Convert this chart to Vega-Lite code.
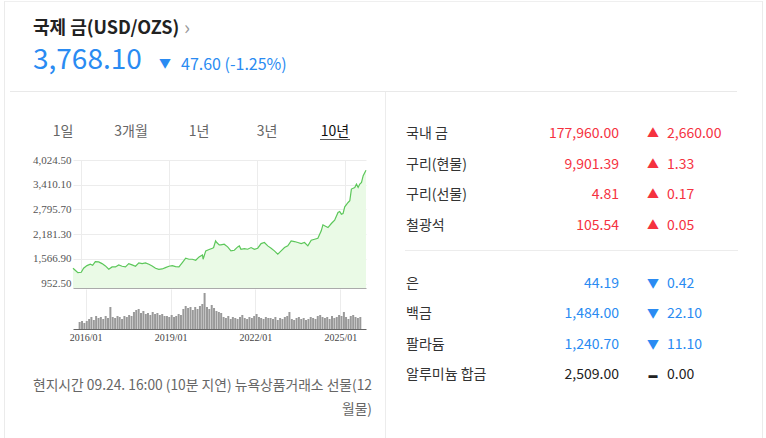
{
  "$schema": "https://vega.github.io/schema/vega-lite/v6.json",
  "background": "white",
  "padding": {"left": 4, "top": 1, "right": 0, "bottom": 0},
  "config": {"view": {"stroke": null}, "text": {"font": "Noto Sans CJK KR"}, "concat": {"spacing": 0}},
  "datasets": {
    "header": [{"name": "국제 금(USD/OZS)", "price": "3,768.10", "chg": "47.60 (-1.25%)", "dir": "down"}],
    "tabs": [{"tab": "1일", "state": "off"}, {"tab": "3개월", "state": "off"}, {"tab": "1년", "state": "off"}, {"tab": "3년", "state": "off"}, {"tab": "10년", "state": "on"}],
    "note": [{"note": ["현지시간 09.24. 16:00 (10분 지연) 뉴욕상품거래소 선물(12", "월물)"]}],
    "metals1": [
      {"name": "국내 금", "value": "177,960.00", "chg": "2,660.00", "dir": "up"},
      {"name": "구리(현물)", "value": "9,901.39", "chg": "1.33", "dir": "up"},
      {"name": "구리(선물)", "value": "4.81", "chg": "0.17", "dir": "up"},
      {"name": "철광석", "value": "105.54", "chg": "0.05", "dir": "up"}
    ],
    "metals2": [
      {"name": "은", "value": "44.19", "chg": "0.42", "dir": "down"},
      {"name": "백금", "value": "1,484.00", "chg": "22.10", "dir": "down"},
      {"name": "팔라듐", "value": "1,240.70", "chg": "11.10", "dir": "down"},
      {"name": "알루미늄 합금", "value": "2,509.00", "chg": "0.00", "dir": "flat"}
    ],
    "gold": [
      {"date": "2015-09-24", "price": 1335}, {"date": "2015-10-22", "price": 1285}, {"date": "2015-11-24", "price": 1227},
      {"date": "2016-01-05", "price": 1235}, {"date": "2016-02-03", "price": 1335}, {"date": "2016-03-16", "price": 1401},
      {"date": "2016-04-27", "price": 1435}, {"date": "2016-05-26", "price": 1410}, {"date": "2016-06-28", "price": 1501},
      {"date": "2016-08-09", "price": 1493}, {"date": "2016-09-20", "price": 1451}, {"date": "2016-11-01", "price": 1393},
      {"date": "2016-12-13", "price": 1310}, {"date": "2017-01-23", "price": 1368}, {"date": "2017-03-06", "price": 1368},
      {"date": "2017-04-16", "price": 1418}, {"date": "2017-05-28", "price": 1385}, {"date": "2017-07-09", "price": 1368},
      {"date": "2017-08-19", "price": 1451}, {"date": "2017-09-30", "price": 1418}, {"date": "2017-11-11", "price": 1385},
      {"date": "2017-12-23", "price": 1468}, {"date": "2018-02-02", "price": 1451}, {"date": "2018-03-16", "price": 1468},
      {"date": "2018-04-27", "price": 1435}, {"date": "2018-06-07", "price": 1393}, {"date": "2018-07-19", "price": 1335},
      {"date": "2018-08-29", "price": 1310}, {"date": "2018-10-10", "price": 1318}, {"date": "2018-11-20", "price": 1352},
      {"date": "2019-01-02", "price": 1385}, {"date": "2019-02-13", "price": 1401}, {"date": "2019-03-26", "price": 1376},
      {"date": "2019-05-07", "price": 1368}, {"date": "2019-06-18", "price": 1476}, {"date": "2019-07-30", "price": 1584},
      {"date": "2019-09-09", "price": 1559}, {"date": "2019-10-21", "price": 1559}, {"date": "2019-12-02", "price": 1534},
      {"date": "2020-01-13", "price": 1617}, {"date": "2020-02-24", "price": 1667}, {"date": "2020-03-03", "price": 1559},
      {"date": "2020-04-05", "price": 1767}, {"date": "2020-05-17", "price": 1800}, {"date": "2020-06-28", "price": 1833},
      {"date": "2020-07-12", "price": 1850}, {"date": "2020-08-06", "price": 2015}, {"date": "2020-08-20", "price": 1975},
      {"date": "2020-09-20", "price": 1916}, {"date": "2020-10-11", "price": 1916}, {"date": "2020-11-21", "price": 1933},
      {"date": "2021-01-03", "price": 1866}, {"date": "2021-02-13", "price": 1767}, {"date": "2021-03-27", "price": 1783},
      {"date": "2021-05-08", "price": 1866}, {"date": "2021-05-29", "price": 1891}, {"date": "2021-06-18", "price": 1808},
      {"date": "2021-07-30", "price": 1825}, {"date": "2021-09-10", "price": 1808}, {"date": "2021-10-22", "price": 1849},
      {"date": "2021-12-02", "price": 1808}, {"date": "2022-01-13", "price": 1833}, {"date": "2022-02-24", "price": 1949},
      {"date": "2022-04-06", "price": 1974}, {"date": "2022-05-18", "price": 1891}, {"date": "2022-06-29", "price": 1833},
      {"date": "2022-08-09", "price": 1767}, {"date": "2022-09-20", "price": 1684}, {"date": "2022-11-01", "price": 1767},
      {"date": "2022-12-13", "price": 1849}, {"date": "2023-01-23", "price": 1891}, {"date": "2023-03-06", "price": 2015},
      {"date": "2023-04-16", "price": 1999}, {"date": "2023-05-28", "price": 1974}, {"date": "2023-07-09", "price": 1949},
      {"date": "2023-08-19", "price": 1974}, {"date": "2023-09-30", "price": 1891}, {"date": "2023-11-11", "price": 2032},
      {"date": "2023-12-23", "price": 2057}, {"date": "2024-02-02", "price": 2082}, {"date": "2024-03-15", "price": 2264},
      {"date": "2024-04-05", "price": 2414}, {"date": "2024-04-26", "price": 2389}, {"date": "2024-06-07", "price": 2347},
      {"date": "2024-07-19", "price": 2447}, {"date": "2024-08-29", "price": 2530}, {"date": "2024-10-10", "price": 2721},
      {"date": "2024-10-31", "price": 2746}, {"date": "2024-11-21", "price": 2679}, {"date": "2024-12-12", "price": 2696},
      {"date": "2025-01-02", "price": 2862}, {"date": "2025-02-13", "price": 2970}, {"date": "2025-03-06", "price": 3011},
      {"date": "2025-03-26", "price": 3302}, {"date": "2025-05-07", "price": 3343}, {"date": "2025-05-28", "price": 3426},
      {"date": "2025-06-18", "price": 3343}, {"date": "2025-07-09", "price": 3426}, {"date": "2025-07-30", "price": 3468},
      {"date": "2025-08-20", "price": 3634}, {"date": "2025-09-24", "price": 3768.1}
    ],
    "volume": [
      {"month": "2015-10-15", "vol": 70}, {"month": "2015-11-15", "vol": 80}, {"month": "2015-12-15", "vol": 60},
      {"month": "2016-01-15", "vol": 80}, {"month": "2016-02-15", "vol": 100}, {"month": "2016-03-15", "vol": 120}, {"month": "2016-04-15", "vol": 90}, {"month": "2016-05-15", "vol": 130}, {"month": "2016-06-15", "vol": 110}, {"month": "2016-07-15", "vol": 120}, {"month": "2016-08-15", "vol": 100}, {"month": "2016-09-15", "vol": 130}, {"month": "2016-10-15", "vol": 110}, {"month": "2016-11-15", "vol": 220}, {"month": "2016-12-15", "vol": 120},
      {"month": "2017-01-15", "vol": 110}, {"month": "2017-02-15", "vol": 130}, {"month": "2017-03-15", "vol": 120}, {"month": "2017-04-15", "vol": 100}, {"month": "2017-05-15", "vol": 130}, {"month": "2017-06-15", "vol": 120}, {"month": "2017-07-15", "vol": 140}, {"month": "2017-08-15", "vol": 130}, {"month": "2017-09-15", "vol": 170}, {"month": "2017-10-15", "vol": 190}, {"month": "2017-11-15", "vol": 200}, {"month": "2017-12-15", "vol": 160},
      {"month": "2018-01-15", "vol": 180}, {"month": "2018-02-15", "vol": 150}, {"month": "2018-03-15", "vol": 160}, {"month": "2018-04-15", "vol": 140}, {"month": "2018-05-15", "vol": 170}, {"month": "2018-06-15", "vol": 150}, {"month": "2018-07-15", "vol": 160}, {"month": "2018-08-15", "vol": 140}, {"month": "2018-09-15", "vol": 150}, {"month": "2018-10-15", "vol": 130}, {"month": "2018-11-15", "vol": 130}, {"month": "2018-12-15", "vol": 120},
      {"month": "2019-01-15", "vol": 140}, {"month": "2019-02-15", "vol": 120}, {"month": "2019-03-15", "vol": 130}, {"month": "2019-04-15", "vol": 150}, {"month": "2019-05-15", "vol": 140}, {"month": "2019-06-15", "vol": 200}, {"month": "2019-07-15", "vol": 230}, {"month": "2019-08-15", "vol": 210}, {"month": "2019-09-15", "vol": 220}, {"month": "2019-10-15", "vol": 190}, {"month": "2019-11-15", "vol": 220}, {"month": "2019-12-15", "vol": 200},
      {"month": "2020-01-15", "vol": 230}, {"month": "2020-02-15", "vol": 250}, {"month": "2020-03-15", "vol": 360}, {"month": "2020-04-15", "vol": 220}, {"month": "2020-05-15", "vol": 200}, {"month": "2020-06-15", "vol": 240}, {"month": "2020-07-15", "vol": 210}, {"month": "2020-08-15", "vol": 180}, {"month": "2020-09-15", "vol": 170}, {"month": "2020-10-15", "vol": 160}, {"month": "2020-11-15", "vol": 120}, {"month": "2020-12-15", "vol": 110},
      {"month": "2021-01-15", "vol": 130}, {"month": "2021-02-15", "vol": 100}, {"month": "2021-03-15", "vol": 120}, {"month": "2021-04-15", "vol": 110}, {"month": "2021-05-15", "vol": 100}, {"month": "2021-06-15", "vol": 120}, {"month": "2021-07-15", "vol": 140}, {"month": "2021-08-15", "vol": 110}, {"month": "2021-09-15", "vol": 100}, {"month": "2021-10-15", "vol": 120}, {"month": "2021-11-15", "vol": 110}, {"month": "2021-12-15", "vol": 130},
      {"month": "2022-01-15", "vol": 150}, {"month": "2022-02-15", "vol": 120}, {"month": "2022-03-15", "vol": 110}, {"month": "2022-04-15", "vol": 100}, {"month": "2022-05-15", "vol": 120}, {"month": "2022-06-15", "vol": 110}, {"month": "2022-07-15", "vol": 110}, {"month": "2022-08-15", "vol": 100}, {"month": "2022-09-15", "vol": 120}, {"month": "2022-10-15", "vol": 90}, {"month": "2022-11-15", "vol": 110}, {"month": "2022-12-15", "vol": 100},
      {"month": "2023-01-15", "vol": 120}, {"month": "2023-02-15", "vol": 130}, {"month": "2023-03-15", "vol": 170}, {"month": "2023-04-15", "vol": 100}, {"month": "2023-05-15", "vol": 90}, {"month": "2023-06-15", "vol": 110}, {"month": "2023-07-15", "vol": 120}, {"month": "2023-08-15", "vol": 100}, {"month": "2023-09-15", "vol": 110}, {"month": "2023-10-15", "vol": 90}, {"month": "2023-11-15", "vol": 100}, {"month": "2023-12-15", "vol": 120},
      {"month": "2024-01-15", "vol": 110}, {"month": "2024-02-15", "vol": 100}, {"month": "2024-03-15", "vol": 130}, {"month": "2024-04-15", "vol": 140}, {"month": "2024-05-15", "vol": 120}, {"month": "2024-06-15", "vol": 110}, {"month": "2024-07-15", "vol": 120}, {"month": "2024-08-15", "vol": 100}, {"month": "2024-09-15", "vol": 130}, {"month": "2024-10-15", "vol": 110}, {"month": "2024-11-15", "vol": 120}, {"month": "2024-12-15", "vol": 140},
      {"month": "2025-01-15", "vol": 130}, {"month": "2025-02-15", "vol": 170}, {"month": "2025-03-15", "vol": 120}, {"month": "2025-04-15", "vol": 100}, {"month": "2025-05-15", "vol": 130}, {"month": "2025-06-15", "vol": 140}, {"month": "2025-07-15", "vol": 120}, {"month": "2025-08-15", "vol": 110}, {"month": "2025-09-15", "vol": 120}
    ]
  },
  "hconcat": [
    {"width": 1, "height": 437, "data": {"values": []}, "mark": "text", "view": {"fill": "#ebebeb", "stroke": null}},
    {
      "vconcat": [
        {"width": 757, "height": 1, "data": {"values": []}, "mark": "text", "view": {"fill": "#efefef", "stroke": null}},
        {
          "width": 757, "height": 89,
          "data": {"name": "header"},
          "layer": [
            {"mark": {"type": "text", "align": "left", "fontSize": 18, "fontWeight": "bold", "color": "#222222"},
             "encoding": {
               "x": {"datum": "left", "type": "nominal", "scale": {"type": "point", "domain": ["left", "chg"], "range": [28, 176], "padding": 0}, "axis": null},
               "y": {"datum": "l1", "type": "nominal", "scale": {"type": "point", "domain": ["l1", "l2"], "range": [27, 59], "padding": 0}, "axis": null},
               "text": {"field": "name"}}},
            {"mark": {"type": "text", "align": "left", "fontSize": 20, "color": "#999999", "dx": 151, "text": "›"},
             "encoding": {
               "x": {"datum": "left", "type": "nominal", "scale": {"type": "point", "domain": ["left", "chg"], "range": [28, 176], "padding": 0}, "axis": null},
               "y": {"datum": "l1", "type": "nominal", "scale": {"type": "point", "domain": ["l1", "l2"], "range": [27, 59], "padding": 0}, "axis": null}}},
            {"mark": {"type": "text", "align": "left", "fontSize": 28, "color": "#2a8bf2"},
             "encoding": {
               "x": {"datum": "left", "type": "nominal", "scale": {"type": "point", "domain": ["left", "chg"], "range": [28, 176], "padding": 0}, "axis": null},
               "y": {"datum": "l2", "type": "nominal", "scale": {"type": "point", "domain": ["l1", "l2"], "range": [27, 59], "padding": 0}, "axis": null},
               "text": {"field": "price"}}},
            {"mark": {"type": "text", "align": "center", "fontSize": 12, "color": "#2a8bf2", "dx": -16, "dy": 3, "text": "▼"},
             "encoding": {
               "x": {"datum": "chg", "type": "nominal", "scale": {"type": "point", "domain": ["left", "chg"], "range": [28, 176], "padding": 0}, "axis": null},
               "y": {"datum": "l2", "type": "nominal", "scale": {"type": "point", "domain": ["l1", "l2"], "range": [27, 59], "padding": 0}, "axis": null}}},
            {"mark": {"type": "text", "align": "left", "fontSize": 16, "color": "#2a8bf2", "dy": 4},
             "encoding": {
               "x": {"datum": "chg", "type": "nominal", "scale": {"type": "point", "domain": ["left", "chg"], "range": [28, 176], "padding": 0}, "axis": null},
               "y": {"datum": "l2", "type": "nominal", "scale": {"type": "point", "domain": ["l1", "l2"], "range": [27, 59], "padding": 0}, "axis": null},
               "text": {"field": "chg"}}}
          ]
        },
        {
          "hconcat": [
            {"width": 5, "height": 1, "data": {"values": []}, "mark": "text"},
            {"width": 727, "height": 1, "data": {"values": []}, "mark": "text", "view": {"fill": "#e9e9e9", "stroke": null}}
          ],
          "spacing": 0, "bounds": "flush"
        },
        {
          "hconcat": [
            {
              "vconcat": [
                {
                  "width": 380, "height": 62,
                  "data": {"name": "tabs"},
                  "layer": [
                    {"transform": [{"filter": "datum.state === 'off'"}],
                     "mark": {"type": "text", "fontSize": 14, "color": "#666666"},
                     "encoding": {
                       "x": {"field": "tab", "type": "nominal", "scale": {"type": "point", "domain": ["1일", "3개월", "1년", "3년", "10년"], "range": [58, 330], "padding": 0}, "axis": null},
                       "y": {"datum": "label", "type": "nominal", "scale": {"type": "point", "domain": ["label", "line"], "range": [39.5, 47.5], "padding": 0}, "axis": null},
                       "text": {"field": "tab"}}},
                    {"transform": [{"filter": "datum.state === 'on'"}],
                     "mark": {"type": "text", "fontSize": 14, "color": "#111111"},
                     "encoding": {
                       "x": {"field": "tab", "type": "nominal", "scale": {"type": "point", "domain": ["1일", "3개월", "1년", "3년", "10년"], "range": [58, 330], "padding": 0}, "axis": null},
                       "y": {"datum": "label", "type": "nominal", "scale": {"type": "point", "domain": ["label", "line"], "range": [39.5, 47.5], "padding": 0}, "axis": null},
                       "text": {"field": "tab"}}},
                    {"transform": [{"filter": "datum.state === 'on'"}],
                     "mark": {"type": "tick", "orient": "horizontal", "size": 30, "thickness": 1, "color": "#111111"},
                     "encoding": {
                       "x": {"field": "tab", "type": "nominal", "scale": {"type": "point", "domain": ["1일", "3개월", "1년", "3년", "10년"], "range": [58, 330], "padding": 0}, "axis": null},
                       "y": {"datum": "line", "type": "nominal", "scale": {"type": "point", "domain": ["label", "line"], "range": [39.5, 47.5], "padding": 0}, "axis": null}}}
                  ]
                },
                {
                  "hconcat": [
                    {"width": 1, "height": 1, "data": {"values": []}, "mark": "text"},
                    {
                      "width": 293, "height": 128,
                      "data": {"name": "gold"},
                      "encoding": {
                        "x": {"field": "date", "type": "temporal",
                              "scale": {"domain": [{"year": 2015, "month": 9, "date": 24}, {"year": 2025, "month": 9, "date": 24}]},
                              "axis": {"values": [{"year": 2016, "month": 1, "date": 1}, {"year": 2019, "month": 1, "date": 1}, {"year": 2022, "month": 1, "date": 1}, {"year": 2025, "month": 1, "date": 1}],
                                       "labels": false, "ticks": false, "tickSize": 0, "domain": true, "domainColor": "#aaaaaa", "grid": true, "gridColor": "#ececec", "title": null}},
                        "y": {"field": "price", "type": "quantitative",
                              "scale": {"domain": [845, 4024.5], "nice": false, "zero": false, "clamp": true},
                              "axis": {"values": [952.5, 1566.9, 2181.3, 2795.7, 3410.1, 4024.5], "format": ",.2f",
                                       "labelFont": "Liberation Serif", "labelFontSize": 11, "labelColor": "#555555",
                                       "ticks": false, "tickSize": 0, "domain": false, "grid": true, "gridColor": "#ececec", "labelPadding": 2, "title": null}}
                      },
                      "layer": [
                        {"mark": {"type": "area", "color": "#eafae6"}, "encoding": {"y2": {"datum": 845}}},
                        {"mark": {"type": "line", "color": "#5cc75a", "strokeWidth": 1.2}}
                      ]
                    }
                  ],
                  "spacing": 67, "bounds": "flush"
                },
                {
                  "hconcat": [
                    {"width": 1, "height": 1, "data": {"values": []}, "mark": "text"},
                    {
                      "width": 293, "height": 40,
                      "data": {"name": "volume"},
                      "mark": {"type": "bar", "color": "#999999", "size": 2},
                      "encoding": {
                        "x": {"field": "month", "type": "temporal",
                              "scale": {"domain": [{"year": 2015, "month": 9, "date": 24}, {"year": 2025, "month": 9, "date": 24}]},
                              "axis": {"values": [{"year": 2016, "month": 1, "date": 1}, {"year": 2019, "month": 1, "date": 1}, {"year": 2022, "month": 1, "date": 1}, {"year": 2025, "month": 1, "date": 1}],
                                       "format": "%Y/%m", "labelFont": "Liberation Serif", "labelFontSize": 10, "labelColor": "#444444",
                                       "ticks": false, "tickSize": 0, "domainColor": "#666666", "grid": true, "gridColor": "#ececec",
                                       "labelPadding": 3, "labelFlush": false, "title": null}},
                        "y": {"field": "vol", "type": "quantitative", "scale": {"domain": [0, 400]}, "axis": null}
                      }
                    }
                  ],
                  "spacing": 67, "bounds": "flush"
                },
                {
                  "width": 367, "height": 98,
                  "data": {"name": "note"},
                  "mark": {"type": "text", "align": "right", "fontSize": 13.8, "color": "#666666", "lineHeight": 24, "dy": -5},
                  "encoding": {"x": {"value": "width"}, "text": {"field": "note"}}
                }
              ],
              "spacing": 0
            },
            {"width": 1, "height": 346, "data": {"values": []}, "mark": "text", "view": {"fill": "#ececec", "stroke": null}},
            {
              "vconcat": [
                {
                  "width": 376, "height": 158,
                  "data": {"name": "metals1"},
                  "encoding": {
                    "y": {"field": "name", "type": "nominal", "scale": {"type": "point", "domain": ["국내 금", "구리(현물)", "구리(선물)", "철광석"], "range": [42, 133.5], "padding": 0}, "axis": null},
                    "color": {"field": "dir", "type": "nominal", "scale": {"domain": ["up", "down", "flat"], "range": ["#f5323f", "#2a8bf2", "#222222"]}, "legend": null}
                  },
                  "layer": [
                    {"mark": {"type": "text", "align": "left", "fontSize": 14},
                     "encoding": {"x": {"datum": "name", "type": "nominal", "scale": {"type": "point", "domain": ["name", "value", "chg"], "range": [20, 281], "padding": 0}, "axis": null}, "text": {"field": "name"}, "color": {"value": "#333333"}}},
                    {"mark": {"type": "text", "align": "right", "fontSize": 14, "dx": 82.5},
                     "encoding": {"x": {"datum": "value", "type": "nominal", "scale": {"type": "point", "domain": ["name", "value", "chg"], "range": [20, 281], "padding": 0}, "axis": null}, "text": {"field": "value"}}},
                    {"transform": [{"filter": "datum.dir === 'up'"}],
                     "mark": {"type": "text", "align": "center", "fontSize": 12, "dx": -14, "text": "▲"},
                     "encoding": {"x": {"datum": "chg", "type": "nominal", "scale": {"type": "point", "domain": ["name", "value", "chg"], "range": [20, 281], "padding": 0}, "axis": null}}},
                    {"mark": {"type": "text", "align": "left", "fontSize": 14},
                     "encoding": {"x": {"datum": "chg", "type": "nominal", "scale": {"type": "point", "domain": ["name", "value", "chg"], "range": [20, 281], "padding": 0}, "axis": null}, "text": {"field": "chg"}}}
                  ]
                },
                {
                  "hconcat": [
                    {"width": 19, "height": 1, "data": {"values": []}, "mark": "text"},
                    {"width": 333, "height": 1, "data": {"values": []}, "mark": "text", "view": {"fill": "#ececec", "stroke": null}}
                  ],
                  "spacing": 0, "bounds": "flush"
                },
                {
                  "width": 376, "height": 187,
                  "data": {"name": "metals2"},
                  "encoding": {
                    "y": {"field": "name", "type": "nominal", "scale": {"type": "point", "domain": ["은", "백금", "팔라듐", "알루미늄 합금"], "range": [32.5, 124], "padding": 0}, "axis": null},
                    "color": {"field": "dir", "type": "nominal", "scale": {"domain": ["up", "down", "flat"], "range": ["#f5323f", "#2a8bf2", "#222222"]}, "legend": null}
                  },
                  "layer": [
                    {"mark": {"type": "text", "align": "left", "fontSize": 14},
                     "encoding": {"x": {"datum": "name", "type": "nominal", "scale": {"type": "point", "domain": ["name", "value", "chg"], "range": [20, 281], "padding": 0}, "axis": null}, "text": {"field": "name"}, "color": {"value": "#333333"}}},
                    {"mark": {"type": "text", "align": "right", "fontSize": 14, "dx": 82.5},
                     "encoding": {"x": {"datum": "value", "type": "nominal", "scale": {"type": "point", "domain": ["name", "value", "chg"], "range": [20, 281], "padding": 0}, "axis": null}, "text": {"field": "value"}}},
                    {"transform": [{"filter": "datum.dir === 'down'"}],
                     "mark": {"type": "text", "align": "center", "fontSize": 12, "dx": -14, "text": "▼"},
                     "encoding": {"x": {"datum": "chg", "type": "nominal", "scale": {"type": "point", "domain": ["name", "value", "chg"], "range": [20, 281], "padding": 0}, "axis": null}}},
                    {"transform": [{"filter": "datum.dir === 'flat'"}],
                     "mark": {"type": "text", "align": "center", "fontSize": 9, "dx": -14, "text": "▬"},
                     "encoding": {"x": {"datum": "chg", "type": "nominal", "scale": {"type": "point", "domain": ["name", "value", "chg"], "range": [20, 281], "padding": 0}, "axis": null}}},
                    {"mark": {"type": "text", "align": "left", "fontSize": 14},
                     "encoding": {"x": {"datum": "chg", "type": "nominal", "scale": {"type": "point", "domain": ["name", "value", "chg"], "range": [20, 281], "padding": 0}, "axis": null}, "text": {"field": "chg"}}}
                  ]
                }
              ],
              "spacing": 0
            }
          ],
          "spacing": 0
        }
      ],
      "spacing": 0
    },
    {"width": 1, "height": 437, "data": {"values": []}, "mark": "text", "view": {"fill": "#ebebeb", "stroke": null}}
  ],
  "spacing": 0
}
